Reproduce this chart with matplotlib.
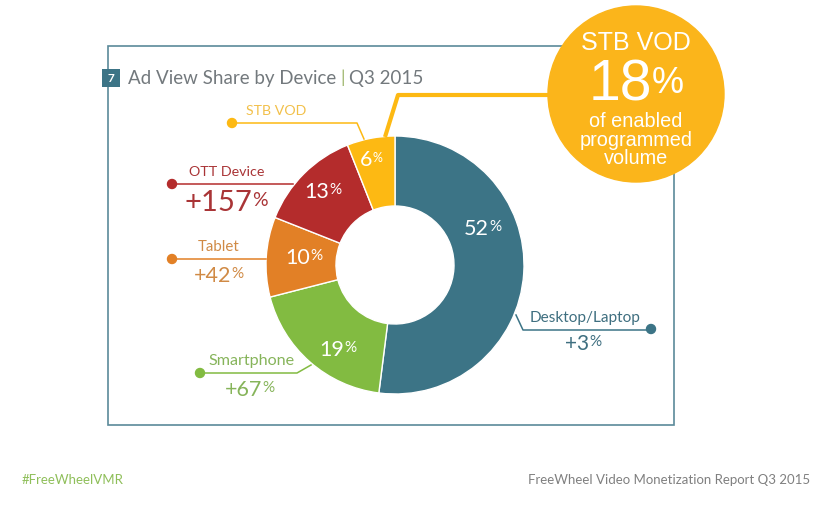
import matplotlib
matplotlib.use("Agg")
import matplotlib.pyplot as plt
from matplotlib.patches import Rectangle, Circle

devices = ["Desktop/Laptop", "Smartphone", "Tablet", "OTT Device", "STB VOD"]
shares = [52, 19, 10, 13, 6]
colors = ["#3C7486", "#82BB41", "#E28026", "#B42C2C", "#FDB913"]
share_labels = ["52", "19", "10", "13", "6"]
change_labels = ["+3", "+67", "+42", "+157"]
text_colors = ["#3F6F80", "#86B45A", "#D08A45", "#A93436", "#F2C04A"]

plt.rcParams["font.family"] = "Lato"
W, H = 831, 509
fig = plt.figure(figsize=(W/100, H/100), dpi=100)

cx, cy, R = 395, 265, 129
pax = fig.add_axes([(cx-R)/W, 1-(cy+R)/H, 2*R/W, 2*R/H])
pax.pie(shares, colors=colors, startangle=90, counterclock=False, radius=1,
        wedgeprops=dict(width=1-59/129, edgecolor="#FFFFFF", linewidth=1.0))
pax.set_xlim(-1, 1); pax.set_ylim(-1, 1)
pax.set_aspect("equal"); pax.axis("off")
pax.set_zorder(1)

ax = fig.add_axes([0, 0, 1, 1])
ax.set_xlim(0, W); ax.set_ylim(H, 0); ax.axis("off")
ax.set_zorder(2)

frame = "#5B8A9A"
ax.add_patch(Rectangle((108, 46), 566, 379, fill=False, ec=frame, lw=1.2))
ax.add_patch(Rectangle((102, 69), 18, 18, fc="#3C7486", ec="none"))
ax.text(111, 78, "7", color="white", fontsize=8.5, ha="center", va="center", fontweight="bold")
gray = "#73797D"
ax.text(128, 78, "Ad View Share by Device", color=gray, fontsize=13.5, va="center")
ax.text(340, 78, "|", color="#9DB56B", fontsize=12.5, va="center")
ax.text(349, 78, "Q3 2015", color=gray, fontsize=13.5, va="center")

def pct(x, y, num, color="white", fs=15, small=11, gap=0.5, up=2):
    ax.text(x, y, num, color=color, fontsize=fs, ha="right", va="center", zorder=6)
    ax.text(x+gap, y-up, "%", color=color, fontsize=small, ha="left", va="center", zorder=6)

pct(489, 229, share_labels[0], fs=15.5)
pct(344, 350, share_labels[1], fs=15.5)
pct(310, 258, share_labels[2], fs=15.5)
pct(329, 192, share_labels[3], fs=15.5)
pct(372, 160, share_labels[4], fs=15.5, small=9)

# Leader lines
def dot(x, y, c):
    ax.add_patch(Circle((x, y), 4.5, color=c, zorder=5))
ax.plot([516, 523, 651], [315, 330, 330], color=colors[0], lw=1.1, zorder=5); dot(651, 329, colors[0])
ax.plot([200, 297, 311], [373, 373, 365], color=colors[1], lw=1.1, zorder=5); dot(200, 373, colors[1])
ax.plot([172, 266], [259, 259], color=colors[2], lw=1.1, zorder=5); dot(172, 259, colors[2])
ax.plot([172, 293], [184, 184], color=colors[3], lw=1.1, zorder=5); dot(172, 184, colors[3])
ax.plot([232, 357, 364], [123, 123, 139], color=colors[4], lw=1.1, zorder=5); dot(232, 123, colors[4])

# Callout connector
ax.plot([385, 398, 560], [137, 95, 95], color=colors[4], lw=3, zorder=5, solid_capstyle="butt")

# Labels
ax.text(276, 111, devices[4], color=text_colors[4], fontsize=10.2, ha="center", va="center")
ax.text(227, 172, devices[3], color=text_colors[3], fontsize=10.3, ha="center", va="center")
ax.text(219, 247, devices[2], color=text_colors[2], fontsize=10.8, ha="center", va="center")
ax.text(252, 361, devices[1], color=text_colors[1], fontsize=11.6, ha="center", va="center")
ax.text(585, 318, devices[0], color=text_colors[0], fontsize=11.1, ha="center", va="center")

pct(252, 203, change_labels[3], text_colors[3], fs=21, small=14)
pct(231, 276, change_labels[2], text_colors[2], fs=15.5, small=11)
pct(262, 390, change_labels[1], text_colors[1], fs=15.5, small=11)
pct(589, 344, change_labels[0], text_colors[0], fs=15, small=11)

# Callout circle
ax.add_patch(Circle((636, 94), 88, color="#FBB51B", zorder=7))
cf = "Liberation Sans"
ax.text(636, 43, "STB VOD", color="white", fontsize=18, family=cf, ha="center", va="center", zorder=8)
ax.text(620, 85, "18", color="white", fontsize=41, family=cf, ha="center", va="center", zorder=8)
ax.text(668, 83, "%", color="white", fontsize=26, family=cf, ha="center", va="center", zorder=8)
ax.text(636, 121, "of enabled", color="white", fontsize=14.3, family=cf, ha="center", va="center", zorder=8)
ax.text(636, 140, "programmed", color="white", fontsize=14.3, family=cf, ha="center", va="center", zorder=8)
ax.text(636, 159, "volume", color="white", fontsize=14.3, family=cf, ha="center", va="center", zorder=8)

ax.text(22, 480, "#FreeWheelVMR", color="#8FBF5A", fontsize=9.5, va="center")
ax.text(810, 480, "FreeWheel Video Monetization Report Q3 2015", color="#808080", fontsize=9.5, ha="right", va="center")

fig.savefig("out.png", dpi=100, facecolor="white")
